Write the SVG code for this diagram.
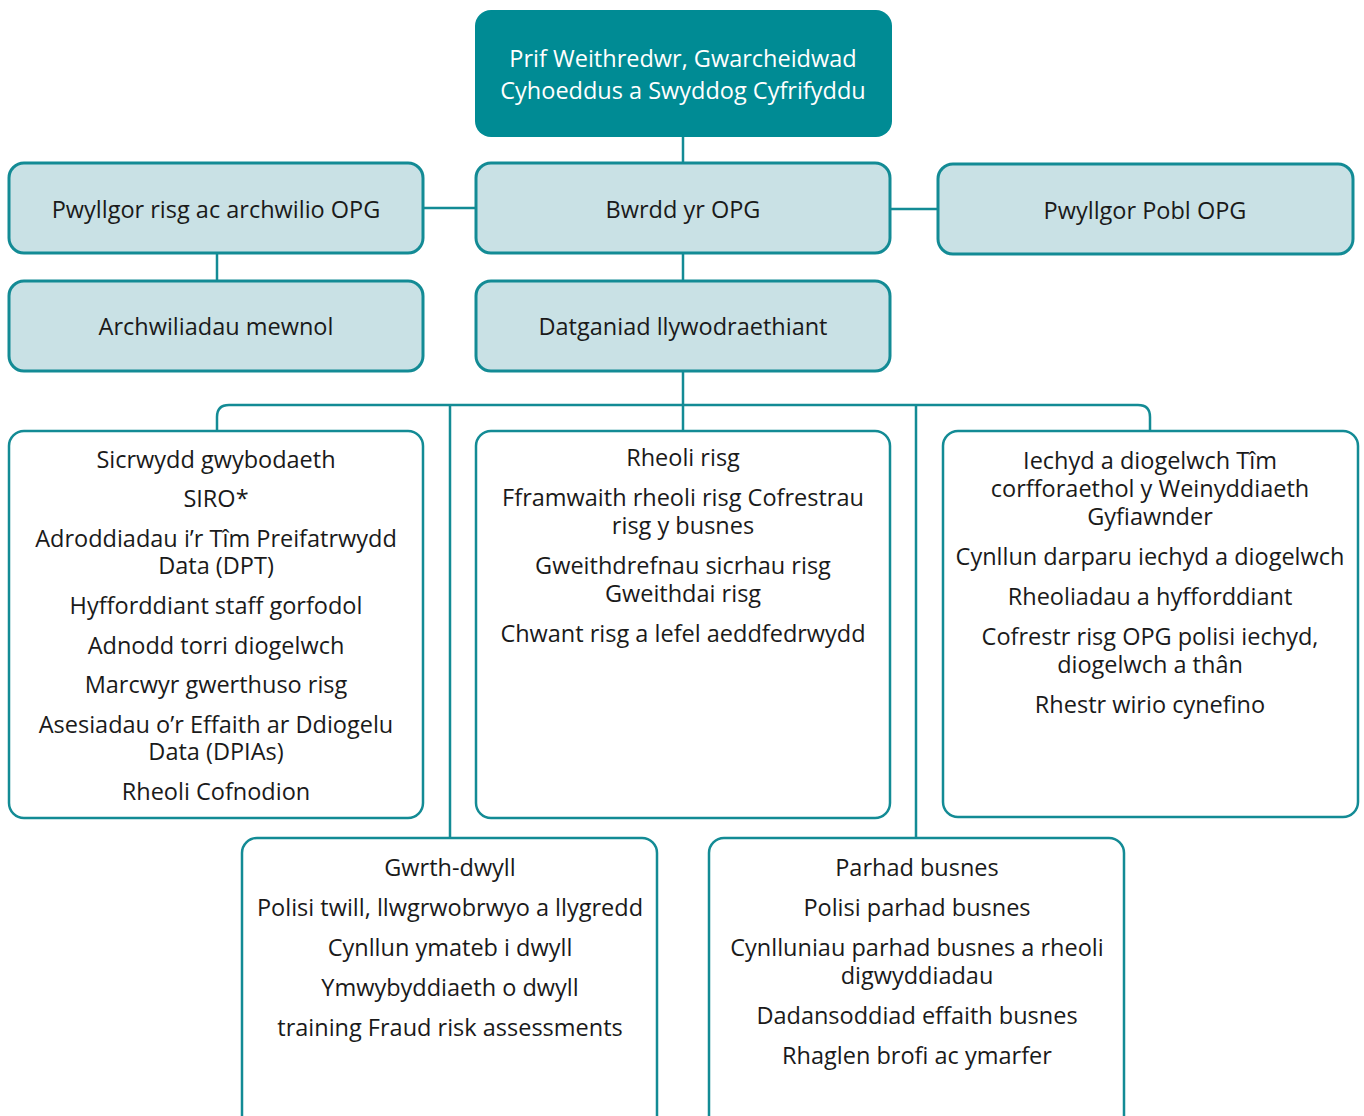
<svg xmlns="http://www.w3.org/2000/svg" width="1364" height="1116" viewBox="0 0 1364 1116">
<style>
.top{fill:#008b94;}
.blue{fill:#c9e1e5;stroke:#138b95;stroke-width:3;}
.wht{fill:#ffffff;stroke:#138b95;stroke-width:2.5;}
.conn{fill:none;stroke:#138b95;stroke-width:2.5;}
text{font-family:"Open Sans","Liberation Sans",Arial,sans-serif;font-size:23.5px;fill:#1a1a1a;text-anchor:middle;}
.tw{fill:#ffffff;font-size:23.5px;}
</style>
<rect width="1364" height="1116" fill="#ffffff"/>
<g id="connectors">
<line class="conn" x1="683" y1="136" x2="683" y2="163"/>
<line class="conn" x1="423" y1="208" x2="476" y2="208"/>
<line class="conn" x1="890" y1="209" x2="938" y2="209"/>
<line class="conn" x1="217" y1="253" x2="217" y2="281"/>
<line class="conn" x1="683" y1="253" x2="683" y2="281"/>
<line class="conn" x1="683" y1="371" x2="683" y2="431"/>
<path class="conn" d="M217,431 V417 Q217,405 229,405 H1138 Q1150,405 1150,417 V431"/>
<line class="conn" x1="450" y1="405" x2="450" y2="838"/>
<line class="conn" x1="916" y1="405" x2="916" y2="838"/>
</g>
<g id="n-top">
<rect class="top" x="475" y="10" width="417" height="127" rx="16"/>
<text class="tw" x="683" y="67">Prif Weithredwr, Gwarcheidwad</text>
<text class="tw" x="683" y="99">Cyhoeddus a Swyddog Cyfrifyddu</text>
</g>
<g id="n-pwyllgor-risg">
<rect class="blue" x="9" y="163" width="414" height="90" rx="15"/>
<text x="216" y="218">Pwyllgor risg ac archwilio OPG</text>
</g>
<g id="n-bwrdd">
<rect class="blue" x="476" y="163" width="414" height="90" rx="15"/>
<text x="683" y="218">Bwrdd yr OPG</text>
</g>
<g id="n-pobl">
<rect class="blue" x="938" y="164" width="415" height="90" rx="15"/>
<text x="1145" y="219">Pwyllgor Pobl OPG</text>
</g>
<g id="n-archwiliadau">
<rect class="blue" x="9" y="281" width="414" height="90" rx="15"/>
<text x="216" y="335">Archwiliadau mewnol</text>
</g>
<g id="n-datganiad">
<rect class="blue" x="476" y="281" width="414" height="90" rx="15"/>
<text x="683" y="335">Datganiad llywodraethiant</text>
</g>
<g id="n-sicrwydd">
<rect class="wht" x="9" y="431" width="414" height="387" rx="15"/>
<text x="216" y="468">Sicrwydd gwybodaeth</text>
<text x="216" y="507">SIRO*</text>
<text x="216" y="547">Adroddiadau i’r Tîm Preifatrwydd</text>
<text x="216" y="574">Data (DPT)</text>
<text x="216" y="614">Hyfforddiant staff gorfodol</text>
<text x="216" y="654">Adnodd torri diogelwch</text>
<text x="216" y="693">Marcwyr gwerthuso risg</text>
<text x="216" y="733">Asesiadau o’r Effaith ar Ddiogelu</text>
<text x="216" y="760">Data (DPIAs)</text>
<text x="216" y="800">Rheoli Cofnodion</text>
</g>
<g id="n-rheoli-risg">
<rect class="wht" x="476" y="431" width="414" height="387" rx="15"/>
<text x="683" y="466">Rheoli risg</text>
<text x="683" y="506">Fframwaith rheoli risg Cofrestrau</text>
<text x="683" y="534">risg y busnes</text>
<text x="683" y="574">Gweithdrefnau sicrhau risg</text>
<text x="683" y="602">Gweithdai risg</text>
<text x="683" y="642">Chwant risg a lefel aeddfedrwydd</text>
</g>
<g id="n-iechyd">
<rect class="wht" x="943" y="431" width="415" height="386" rx="15"/>
<text x="1150" y="469">Iechyd a diogelwch Tîm</text>
<text x="1150" y="497">corfforaethol y Weinyddiaeth</text>
<text x="1150" y="525">Gyfiawnder</text>
<text x="1150" y="565">Cynllun darparu iechyd a diogelwch</text>
<text x="1150" y="605">Rheoliadau a hyfforddiant</text>
<text x="1150" y="645">Cofrestr risg OPG polisi iechyd,</text>
<text x="1150" y="673">diogelwch a thân</text>
<text x="1150" y="713">Rhestr wirio cynefino</text>
</g>
<g id="n-gwrth-dwyll">
<rect class="wht" x="242" y="838" width="415" height="300" rx="15"/>
<text x="450" y="876">Gwrth-dwyll</text>
<text x="450" y="916">Polisi twill, llwgrwobrwyo a llygredd</text>
<text x="450" y="956">Cynllun ymateb i dwyll</text>
<text x="450" y="996">Ymwybyddiaeth o dwyll</text>
<text x="450" y="1036">training Fraud risk assessments</text>
</g>
<g id="n-parhad">
<rect class="wht" x="709" y="838" width="415" height="300" rx="15"/>
<text x="917" y="876">Parhad busnes</text>
<text x="917" y="916">Polisi parhad busnes</text>
<text x="917" y="956">Cynlluniau parhad busnes a rheoli</text>
<text x="917" y="984">digwyddiadau</text>
<text x="917" y="1024">Dadansoddiad effaith busnes</text>
<text x="917" y="1064">Rhaglen brofi ac ymarfer</text>
</g>
</svg>
